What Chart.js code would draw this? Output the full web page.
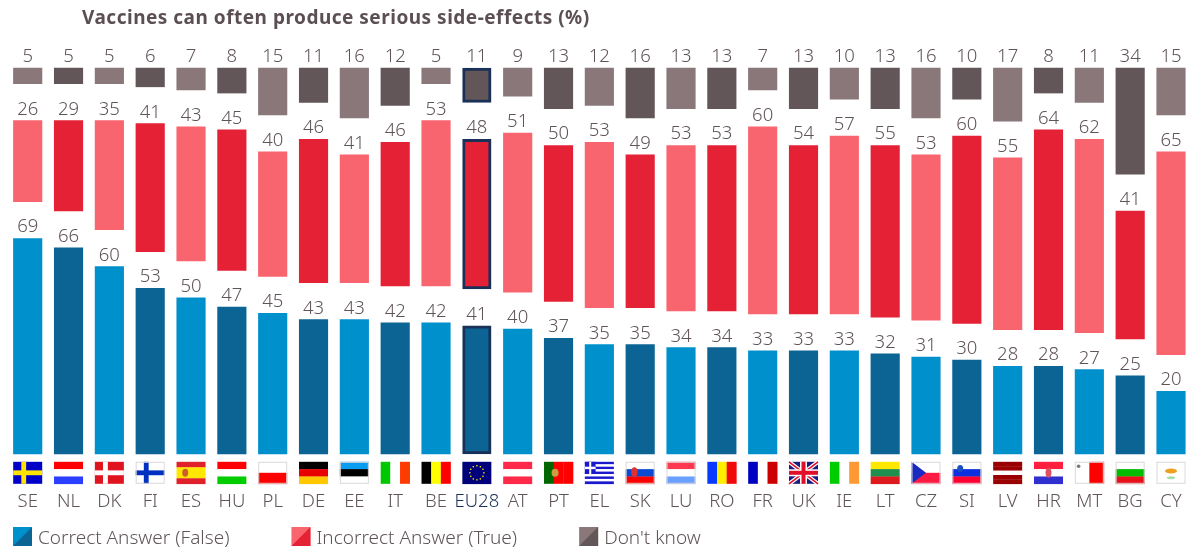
<!DOCTYPE html>
<html>
<head>
<meta charset="utf-8">
<title>Vaccines can often produce serious side-effects</title>
<script src="https://cdn.jsdelivr.net/npm/chart.js@4"></script>
<style>
html, body { margin: 0; padding: 0; background: #fff; overflow: hidden; }
canvas { display: block; }
</style>
</head>
<body>
<canvas id="Chart" width="1186" height="550"></canvas>
<script>
const chartTitle = 'Vaccines can often produce serious side-effects (%)';
const countries = ['SE','NL','DK','FI','ES','HU','PL','DE','EE','IT','BE','EU28','AT','PT','EL','SK','LU','RO','FR','UK','IE','LT','CZ','SI','LV','HR','MT','BG','CY'];
const correct = [69,66,60,53,50,47,45,43,43,42,42,41,40,37,35,35,34,34,33,33,33,32,31,30,28,28,27,25,20];
const incorrect = [26,29,35,41,43,45,40,46,41,46,53,48,51,50,53,49,53,53,60,54,57,55,53,60,55,64,62,41,65];
const dontKnow = [5,5,5,6,7,8,15,11,16,12,5,11,9,13,12,16,13,13,7,13,10,13,16,10,17,8,11,34,15];
const seriesNames = ['Correct Answer (False)', 'Incorrect Answer (True)', "Don't know"];

// empty part of the stack between the three blocks
const gapSize = 11.8;
const gap = countries.map(function() { return gapSize; });

const lightColors = ['#0090cc', '#f9656f', '#89777a'];
const darkColors = ['#0b6494', '#e52136', '#625659'];
const textColor = '#5f5458';
const euColor = '#1a3058';
const euIndex = countries.indexOf('EU28');
const fontName = '"Noto Sans", sans-serif';

// dot: [x, y, colour, radius x, radius y]
const flags = {
    SE: { cross: ['#0000c8', '#ffe500'] },
    NL: { h: ['#ff0000', '#ffffff', '#2a3fff'] },
    DK: { cross: ['#e0141e', '#ffffff'] },
    FI: { cross: ['#ffffff', '#0030c0'], edge: true },
    ES: { h: ['#e0202a', '#ffe800', '#ffe800', '#e0202a'], dot: [0.3, 0.5, '#c8602a', 3, 4] },
    HU: { h: ['#ff0000', '#ffffff', '#00cc00'] },
    PL: { h: ['#ffffff', '#ff0000'], edge: true },
    DE: { h: ['#000000', '#e80000', '#ffc800'] },
    EE: { h: ['#0a9cf0', '#000000', '#ffffff'], edge: true },
    IT: { v: ['#00c800', '#ffffff', '#ff3c00'] },
    BE: { v: ['#000000', '#ffff00', '#ff0000'] },
    EU28: { h: ['#00007a'], stars: true },
    AT: { h: ['#ff2a4a', '#ffffff', '#ff2a4a'] },
    PT: { v: ['#006600', '#ff0000', '#ff0000'], dot: [0.38, 0.5, '#c8a040', 3.5, 4] },
    EL: { h: ['#1a1acc', '#ffffff', '#1a1acc', '#ffffff', '#1a1acc', '#ffffff', '#1a1acc', '#ffffff', '#1a1acc'], canton: true },
    SK: { h: ['#ffffff', '#0a4ad0', '#ff0000'], dot: [0.3, 0.47, '#e03030', 3.2, 5], edge: true },
    LU: { h: ['#ff3a50', '#ffffff', '#6aa0ff'], edge: true },
    RO: { v: ['#0a3aff', '#ffee00', '#f00a0a'] },
    FR: { v: ['#0000c0', '#ffffff', '#cc0000'] },
    UK: { union: true },
    IE: { v: ['#00cc00', '#ffffff', '#ff9933'] },
    LT: { h: ['#ffe800', '#1f8f4f', '#dd1a1e'] },
    CZ: { h: ['#ffffff', '#ff1a44'], wedge: '#1a2ac0', edge: true },
    SI: { h: ['#ffffff', '#0a30e0', '#ff0033'], dot: [0.27, 0.3, '#1a50c0', 3, 3.5], edge: true },
    LV: { h: ['#9a0000', '#9a0000', '#ffffff', '#9a0000', '#9a0000'] },
    HR: { h: ['#ff2040', '#ffffff', '#3030d0'], dot: [0.5, 0.5, '#e05060', 3, 5] },
    MT: { v: ['#ffffff', '#ff0000'], dot: [0.13, 0.2, '#777777', 1.8, 1.8], edge: true },
    BG: { h: ['#ffffff', '#00bb00', '#e8101a'], edge: true },
    CY: { h: ['#ffffff'], dot: [0.5, 0.42, '#f0a020', 6, 2.5], dot2: [0.5, 0.72, '#a8dca8', 4, 1.5], edge: true }
};

function barColor(series) {
    return function(c) {
        return c.dataIndex % 2 === 0 ? lightColors[series] : darkColors[series];
    };
}

function makeBars(label, values, series) {
    return {
        label: label,
        data: values,
        clip: false,
        backgroundColor: barColor(series),
        borderColor: function(c) { return c.dataIndex === euIndex ? euColor : 'transparent'; },
        borderWidth: function(c) { return c.dataIndex === euIndex ? 3 : 0; },
        borderSkipped: false
    };
}

function makeGap(values) {
    return { label: 'gap', data: values, clip: false, backgroundColor: 'transparent', borderWidth: 0 };
}

function drawFlag(g, flag, x, y, w, h) {
    g.save();
    if (flag.h) {
        flag.h.forEach(function(col, i) {
            g.fillStyle = col;
            g.fillRect(x, y + i * h / flag.h.length, w, h / flag.h.length + 0.3);
        });
    }
    if (flag.v) {
        flag.v.forEach(function(col, i) {
            g.fillStyle = col;
            g.fillRect(x + i * w / flag.v.length, y, w / flag.v.length + 0.3, h);
        });
    }
    if (flag.cross) {
        g.fillStyle = flag.cross[0];
        g.fillRect(x, y, w, h);
        g.fillStyle = flag.cross[1];
        g.fillRect(x + w * 0.28, y, h * 0.22, h);
        g.fillRect(x, y + h * 0.39, w, h * 0.22);
    }
    if (flag.wedge) {
        g.fillStyle = flag.wedge;
        g.beginPath();
        g.moveTo(x, y);
        g.lineTo(x + w * 0.5, y + h / 2);
        g.lineTo(x, y + h);
        g.fill();
    }
    if (flag.canton) {
        g.fillStyle = '#1a1acc';
        g.fillRect(x, y, w * 0.37, h * 5 / 9);
        g.fillStyle = '#ffffff';
        g.fillRect(x + w * 0.15, y, w * 0.07, h * 5 / 9);
        g.fillRect(x, y + h * 2 / 9, w * 0.37, h / 9);
    }
    if (flag.union) {
        g.fillStyle = '#1a1a80';
        g.fillRect(x, y, w, h);
        g.lineCap = 'butt';
        [['#ffffff', 4], ['#e0102a', 1.6]].forEach(function(s) {
            g.strokeStyle = s[0];
            g.lineWidth = s[1];
            g.beginPath();
            g.moveTo(x, y); g.lineTo(x + w, y + h);
            g.moveTo(x + w, y); g.lineTo(x, y + h);
            g.stroke();
        });
        g.fillStyle = '#ffffff';
        g.fillRect(x + w / 2 - 3.5, y, 7, h);
        g.fillRect(x, y + h / 2 - 3.5, w, 7);
        g.fillStyle = '#e0102a';
        g.fillRect(x + w / 2 - 2, y, 4, h);
        g.fillRect(x, y + h / 2 - 2, w, 4);
    }
    if (flag.stars) {
        g.fillStyle = '#ffe000';
        for (let i = 0; i < 12; i++) {
            const a = i * Math.PI / 6;
            g.fillRect(x + w / 2 + Math.cos(a) * h * 0.32 - 0.7, y + h / 2 + Math.sin(a) * h * 0.32 - 0.7, 1.4, 1.4);
        }
    }
    [flag.dot, flag.dot2].forEach(function(d) {
        if (!d) return;
        g.fillStyle = d[2];
        g.beginPath();
        g.ellipse(x + w * d[0], y + h * d[1], d[3], d[4], 0, 0, Math.PI * 2);
        g.fill();
    });
    if (flag.edge) {
        g.strokeStyle = '#dcd8d8';
        g.lineWidth = 1;
        g.strokeRect(x + 0.5, y + 0.5, w - 1, h - 1);
    }
    g.restore();
}

// value labels, flags, title and legend
const extras = {
    id: 'extras',
    afterDatasetsDraw: function(chart) {
        const g = chart.ctx;
        const xScale = chart.scales.x;
        const bottom = chart.chartArea.bottom;

        g.save();
        g.font = '300 18.5px ' + fontName;
        g.fillStyle = textColor;
        g.textAlign = 'center';
        g.textBaseline = 'alphabetic';
        chart.data.datasets.forEach(function(set, d) {
            if (set.label === 'gap') return;
            chart.getDatasetMeta(d).data.forEach(function(bar, i) {
                g.fillText(set.data[i], bar.x, bar.y - 6);
            });
        });

        countries.forEach(function(name, i) {
            drawFlag(g, flags[name], xScale.getPixelForValue(i) - 14.5, bottom + 8, 29, 22);
        });

        g.textAlign = 'left';
        g.font = 'bold 19px ' + fontName;
        g.letterSpacing = '0.5px';
        g.fillStyle = '#5b4f54';
        g.fillText(chartTitle, 82, 24);
        g.letterSpacing = '0px';

        g.font = '300 19px ' + fontName;
        g.textBaseline = 'middle';
        let x = 13;
        seriesNames.forEach(function(name, s) {
            g.fillStyle = lightColors[s];
            g.fillRect(x, 527, 19, 19);
            g.fillStyle = darkColors[s];
            g.beginPath();
            g.moveTo(x + 19, 527);
            g.lineTo(x + 19, 546);
            g.lineTo(x, 546);
            g.fill();
            g.fillStyle = textColor;
            g.fillText(name, x + 25, 539);
            x += 25 + g.measureText(name).width + 62;
        });
        g.restore();
    }
};

new Chart(document.getElementById('Chart'), {
    type: 'bar',
    data: {
        labels: countries,
        datasets: [
            makeBars(seriesNames[0], correct, 0),
            makeGap(gap),
            makeBars(seriesNames[1], incorrect, 1),
            makeGap(gap),
            makeBars(seriesNames[2], dontKnow, 2)
        ]
    },
    options: {
        responsive: false,
        animation: false,
        barThickness: 28.5,
        layout: { autoPadding: false, padding: { left: 27.7, right: 15, top: 30, bottom: 1 } },
        plugins: {
            legend: { display: false },
            title: { display: false },
            tooltip: { enabled: false }
        },
        scales: {
            x: {
                stacked: true,
                offset: false,
                // keep the first and last bars on the edges of the chart area
                afterFit: function(scale) {
                    scale.paddingLeft = 0;
                    scale.paddingRight = 0;
                },
                border: { display: false },
                grid: { display: false, drawTicks: false },
                ticks: {
                    padding: 36.5,
                    autoSkip: false,
                    maxRotation: 0,
                    font: { family: fontName, size: 18.5, weight: 300 },
                    color: function(c) { return c.index === euIndex ? euColor : textColor; }
                }
            },
            y: {
                stacked: true,
                display: false,
                min: 0,
                max: 135.8
            }
        }
    },
    plugins: [extras]
});
</script>
</body>
</html>
